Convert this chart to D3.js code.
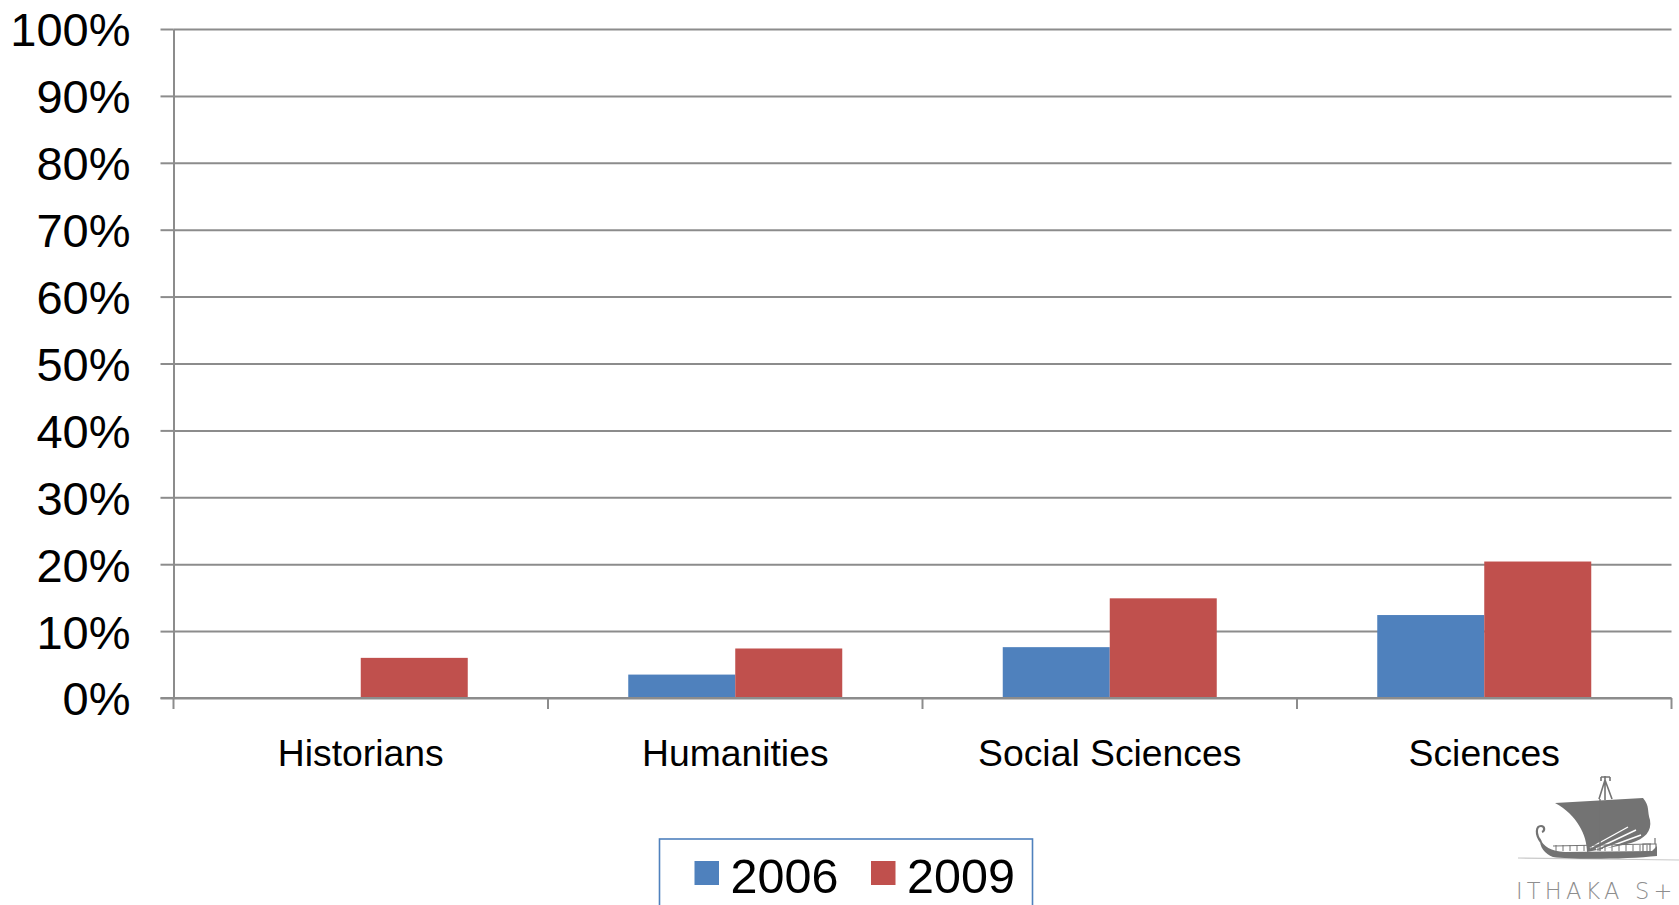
<!DOCTYPE html>
<html>
<head>
<meta charset="utf-8">
<script src="https://cdn.jsdelivr.net/npm/d3@7"></script>
<style>
  html, body { margin: 0; padding: 0; background: #fff; }
  svg { display: block; font-family: "Liberation Sans", Arial, sans-serif; }
</style>
</head>
<body>
<svg id="chart" width="1679" height="905"></svg>
<script>
// Share of respondents, by discipline and survey year
const categories = ["Historians", "Humanities", "Social Sciences", "Sciences"];
const seriesNames = ["2006", "2009"];
const values2006 = [null, 0.035, 0.076, 0.124];
const values2009 = [0.060, 0.074, 0.149, 0.204];
const yTicks = [0, 0.1, 0.2, 0.3, 0.4, 0.5, 0.6, 0.7, 0.8, 0.9, 1.0];
const seriesColors = ["#4F81BD", "#C0504D"];

const seriesValues = [values2006, values2009];

const svg = d3.select("#chart");
const plot = { left: 173.5, right: 1671.5, top: 29, bottom: 698 };
const gridColor = "#8C8C8C";

const x = d3.scaleBand().domain(categories).range([plot.left, plot.right]).padding(0);
const xSub = d3.scaleBand().domain(seriesNames).range([0, x.bandwidth()])
  .paddingInner(0).paddingOuter(0.75);
const y = d3.scaleLinear().domain([0, 1]).range([plot.bottom, plot.top]);

// horizontal gridlines
const grid = svg.append("g").attr("transform", `translate(${plot.left},0)`)
  .call(d3.axisLeft(y).tickValues(yTicks).tickSizeInner(-(plot.right - plot.left)).tickSizeOuter(0).tickFormat(""));
grid.select(".domain").remove();
grid.selectAll("line").attr("stroke", gridColor).attr("stroke-width", 2);

// y axis with percentage labels
const yAxis = svg.append("g").attr("transform", `translate(${plot.left},0)`)
  .call(d3.axisLeft(y).tickValues(yTicks).tickSizeInner(13).tickSizeOuter(0)
    .tickPadding(30).tickFormat(d3.format(".0%")));
yAxis.select(".domain").attr("stroke", gridColor).attr("stroke-width", 2);
yAxis.selectAll("line").attr("stroke", gridColor).attr("stroke-width", 2);
yAxis.selectAll("text").attr("font-size", 47).attr("fill", "#000")
  .attr("font-family", "'Liberation Sans', Arial, sans-serif").attr("dy", "0.36em");

// bars
const rows = categories.map((c, i) => ({
  category: c,
  items: seriesNames.map((s, j) => ({ series: s, value: seriesValues[j][i], color: seriesColors[j] }))
}));
const groups = svg.append("g").selectAll("g").data(rows).join("g")
  .attr("transform", d => `translate(${x(d.category)},0)`);
groups.selectAll("rect").data(d => d.items.filter(e => e.value !== null)).join("rect")
  .attr("x", d => xSub(d.series))
  .attr("width", xSub.bandwidth())
  .attr("y", d => y(d.value))
  .attr("height", d => y(0) - y(d.value))
  .attr("fill", d => d.color);

// x axis baseline and category boundary ticks
const xAxis = svg.append("g");
xAxis.append("line")
  .attr("x1", plot.left - 13).attr("x2", plot.right)
  .attr("y1", y(0)).attr("y2", y(0))
  .attr("stroke", gridColor).attr("stroke-width", 2);
const boundaries = categories.map(c => x(c)).concat([x.range()[1]]);
xAxis.selectAll("line.tick").data(boundaries).join("line")
  .attr("class", "tick")
  .attr("x1", d => d).attr("x2", d => d)
  .attr("y1", y(0)).attr("y2", y(0) + 11)
  .attr("stroke", gridColor).attr("stroke-width", 2);
xAxis.selectAll("text").data(categories).join("text")
  .attr("x", d => x(d) + x.bandwidth() / 2)
  .attr("y", 766)
  .attr("text-anchor", "middle")
  .attr("font-size", 37.3)
  .attr("fill", "#000")
  .text(d => d);

// legend
const legend = svg.append("g");
legend.append("rect")
  .attr("x", 659.5).attr("y", 839).attr("width", 373).attr("height", 90)
  .attr("fill", "#fff").attr("stroke", "#4F81BD").attr("stroke-width", 1.6);
const legendX = [694.5, 871];
const legendItems = legend.selectAll("g.item").data(seriesNames).join("g")
  .attr("class", "item")
  .attr("transform", (d, i) => `translate(${legendX[i]},0)`);
legendItems.append("rect")
  .attr("x", 0).attr("y", 861).attr("width", 24.5).attr("height", 24)
  .attr("fill", (d, i) => seriesColors[i]);
legendItems.append("text")
  .attr("x", 36).attr("y", 892.5)
  .attr("font-size", 48.5).attr("fill", "#000")
  .text(d => d);

// ITHAKA S+ ship mark
const ink = "#737373";
const logo = svg.append("g");
// faint waterline
logo.append("path").attr("fill", "none").attr("stroke", "#C8C8C8").attr("stroke-width", 1.2)
  .attr("d", "M1518 858 L1679 860");
// mast top, crosstree and rigging
logo.append("path").attr("fill", "none").attr("stroke", ink).attr("stroke-width", 1.6)
  .attr("d", "M1605 776 L1605 800 M1601 777 L1610 777 M1601 777 L1601 781 M1610 777 L1610 781 M1605 780 L1599 799 M1605 780 L1612 799");
// sail
logo.append("path").attr("fill", ink).attr("stroke", "none")
  .attr("d", "M1555 803 L1643 798 C1650 806 1647 812 1650 820 C1652 831 1645 839 1631 843 C1615 847 1600 849 1587 852 C1587 835 1577 815 1555 803 Z");
// sail stripes
logo.append("path").attr("fill", "none").attr("stroke", "#fff").attr("stroke-width", 1.4)
  .attr("d", "M1590 848 L1628 827 M1596 849 L1636 830 M1603 849 L1641 835");
// mast through the sail
logo.append("path").attr("fill", "none").attr("stroke", ink).attr("stroke-width", 1.4)
  .attr("d", "M1600 799 L1600 851");
// curled stern
logo.append("path").attr("fill", "none").attr("stroke", ink).attr("stroke-width", 2.2)
  .attr("d", "M1541 842 C1535 834 1536 826 1541 826 C1545 826 1545 831 1542 832");
// hull
logo.append("path").attr("fill", ink).attr("stroke", "none")
  .attr("d", "M1540 838 C1543 847 1551 851 1565 852 L1652 851 L1657 846 L1657 856 C1630 859 1572 860 1553 857 C1545 854 1539 847 1540 838 Z");
// railing with stanchions
const rail = ["M1553 846 L1651 844"];
for (let sx = 1556; sx <= 1648; sx += 7) rail.push(`M${sx} 845 L${sx} 851`);
logo.append("path").attr("fill", "none").attr("stroke", ink).attr("stroke-width", 1)
  .attr("d", rail.join(" "));
// deck house at the bow
logo.append("path").attr("fill", "none").attr("stroke", ink).attr("stroke-width", 1.2)
  .attr("d", "M1643 844 L1656 844 L1656 852 L1643 852 Z M1650 844 L1650 852 M1655 838 L1655 844");
logo.append("text")
  .attr("x", 1516).attr("y", 898.5)
  .attr("font-size", 22.5).attr("letter-spacing", 4.2)
  .attr("fill", "#8E8E8E")
  .attr("font-family", "'DejaVu Sans', sans-serif")
  .style("font-weight", 200)
  .text("ITHAKA S+");
</script>
</body>
</html>
